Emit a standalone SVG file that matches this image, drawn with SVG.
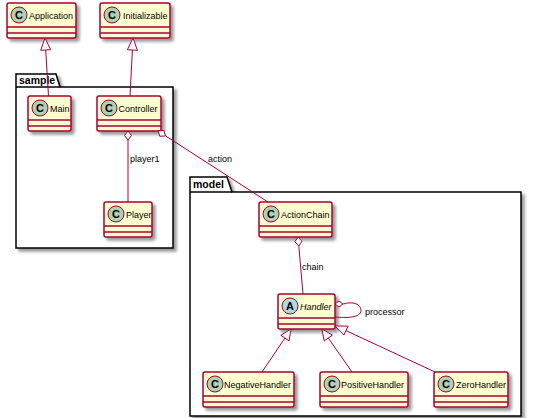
<svg xmlns="http://www.w3.org/2000/svg" width="554" height="418" viewBox="0 0 554 418">
<style>
.box{fill:#FEFECE;stroke:#A80036;stroke-width:1.5;filter:url(#sh)}
.sep{stroke:#A80036;stroke-width:1.5}
.circ{fill:#ADD1B2;stroke:#A80036;stroke-width:1}
.circA{fill:#A9DCDF;stroke:#A80036;stroke-width:1}
.let{font-family:"Liberation Sans",Arial,sans-serif;font-size:11px;font-weight:bold;fill:#000;text-anchor:middle}
.nm{font-family:"Liberation Sans",Arial,sans-serif;font-size:9px;fill:#000}
.lbl{font-family:"Liberation Sans",Arial,sans-serif;font-size:9px;fill:#000}
.pkg{fill:#FFFFFF;stroke:#000;stroke-width:1.5;filter:url(#sh)}
.pkgl{stroke:#000;stroke-width:1.5;fill:none}
.pn{font-family:"Liberation Sans",Arial,sans-serif;font-size:10.5px;font-weight:bold;fill:#000}
.ln{stroke:#A80036;stroke-width:1;fill:none}
.hd{fill:#FFFFFF;stroke:#A80036;stroke-width:1}
</style>
<defs>
<filter id="sh" x="-20%" y="-20%" width="150%" height="150%">
<feGaussianBlur in="SourceAlpha" stdDeviation="1.5"/>
<feOffset dx="3" dy="3" result="o"/>
<feComponentTransfer><feFuncA type="linear" slope="0.4"/></feComponentTransfer>
<feMerge><feMergeNode/><feMergeNode in="SourceGraphic"/></feMerge>
</filter>
</defs>
<rect width="554" height="418" fill="#FFFFFF"/>

<g id="sample">
<path class="pkg" d="M16,74 L56,74 L60,87 L173,87 L173,248 L16,248 Z"/>
<path class="pkgl" d="M16,87 L60,87"/>
<text class="pn" x="19" y="84">sample</text>
</g>
<g id="model">
<path class="pkg" d="M190,177 L227,177 L232,192 L521,192 L521,416 L190,416 Z"/>
<path class="pkgl" d="M190,192 L232,192"/>
<text class="pn" x="193" y="188">model</text>
</g>

<g id="Application" transform="translate(7,3)">
<rect class="box" width="69" height="35" rx="2"/>
<line class="sep" x1="0" y1="24" x2="69" y2="24"/><line class="sep" x1="0" y1="30" x2="69" y2="30"/>
<circle class="circ" cx="12" cy="12" r="8"/><text class="let" x="12" y="16">C</text>
<text class="nm" x="22" y="15.5">Application</text>
</g>
<g id="Initializable" transform="translate(100,3)">
<rect class="box" width="70" height="35" rx="2"/>
<line class="sep" x1="0" y1="24" x2="70" y2="24"/><line class="sep" x1="0" y1="30" x2="70" y2="30"/>
<circle class="circ" cx="12" cy="12" r="8"/><text class="let" x="12" y="16">C</text>
<text class="nm" x="23" y="15.5">Initializable</text>
</g>
<g id="Main" transform="translate(28,96)">
<rect class="box" width="43" height="35" rx="2"/>
<line class="sep" x1="0" y1="24" x2="43" y2="24"/><line class="sep" x1="0" y1="30" x2="43" y2="30"/>
<circle class="circ" cx="12" cy="12" r="8"/><text class="let" x="12" y="16">C</text>
<text class="nm" x="22" y="15.5">Main</text>
</g>
<g id="Controller" transform="translate(97,96)">
<rect class="box" width="64" height="35" rx="2"/>
<line class="sep" x1="0" y1="24" x2="64" y2="24"/><line class="sep" x1="0" y1="30" x2="64" y2="30"/>
<circle class="circ" cx="12" cy="12" r="8"/><text class="let" x="12" y="16">C</text>
<text class="nm" x="21.5" y="15.5">Controller</text>
</g>
<g id="Player" transform="translate(104,202)">
<rect class="box" width="48" height="35" rx="2"/>
<line class="sep" x1="0" y1="24" x2="48" y2="24"/><line class="sep" x1="0" y1="30" x2="48" y2="30"/>
<circle class="circ" cx="12" cy="12" r="8"/><text class="let" x="12" y="16">C</text>
<text class="nm" x="22" y="15.5">Player</text>
</g>
<g id="ActionChain" transform="translate(259,202)">
<rect class="box" width="73" height="35" rx="2"/>
<line class="sep" x1="0" y1="24" x2="73" y2="24"/><line class="sep" x1="0" y1="30" x2="73" y2="30"/>
<circle class="circ" cx="12" cy="12" r="8"/><text class="let" x="12" y="16">C</text>
<text class="nm" x="22" y="15.5">ActionChain</text>
</g>
<g id="Handler" transform="translate(278,294)">
<rect class="box" width="57" height="35" rx="2"/>
<line class="sep" x1="0" y1="24" x2="57" y2="24"/><line class="sep" x1="0" y1="30" x2="57" y2="30"/>
<circle class="circA" cx="12" cy="12" r="8"/><text class="let" x="12" y="16">A</text>
<text class="nm" x="22" y="15.5" font-style="italic">Handler</text>
</g>
<g id="NegativeHandler" transform="translate(203,372)">
<rect class="box" width="91" height="35" rx="2"/>
<line class="sep" x1="0" y1="24" x2="91" y2="24"/><line class="sep" x1="0" y1="30" x2="91" y2="30"/>
<circle class="circ" cx="12" cy="12" r="8"/><text class="let" x="12" y="16">C</text>
<text class="nm" x="21" y="15.5">NegativeHandler</text>
</g>
<g id="PositiveHandler" transform="translate(320,372)">
<rect class="box" width="88" height="35" rx="2"/>
<line class="sep" x1="0" y1="24" x2="88" y2="24"/><line class="sep" x1="0" y1="30" x2="88" y2="30"/>
<circle class="circ" cx="12" cy="12" r="8"/><text class="let" x="12" y="16">C</text>
<text class="nm" x="21" y="15.5">PositiveHandler</text>
</g>
<g id="ZeroHandler" transform="translate(434,372)">
<rect class="box" width="74" height="35" rx="2"/>
<line class="sep" x1="0" y1="24" x2="74" y2="24"/><line class="sep" x1="0" y1="30" x2="74" y2="30"/>
<circle class="circ" cx="12" cy="12" r="8"/><text class="let" x="12" y="16">C</text>
<text class="nm" x="22" y="15.5">ZeroHandler</text>
</g>

<g id="connectors">
<path class="ln" d="M45.7,50 L48.5,96"/>
<polygon class="hd" points="45,38 40.7,50.3 50.7,49.7"/>
<path class="ln" d="M132.4,50 L130,96"/>
<polygon class="hd" points="133,38 127.4,49.7 137.4,50.3"/>

<path class="ln" d="M128,140 L128,202"/>
<polygon class="hd" points="128,131 124.5,135.5 128,140 131.5,135.5"/>
<text class="lbl" x="130" y="162">player1</text>

<path class="ln" d="M165.6,135.9 L268,202"/>
<polygon class="hd" points="158,131 159.9,136.3 165.6,135.9 163.7,130.5"/>
<text class="lbl" x="208" y="162">action</text>

<path class="ln" d="M298.8,246 L303,294"/>
<polygon class="hd" points="298,237 294.9,241.8 298.8,246 301.9,241.2"/>
<text class="lbl" x="302" y="270">chain</text>

<path class="ln" d="M343,304 C353,301 361,304 361,310.5 C361,318 346,318 335,317"/>
<polygon class="hd" points="335,304 339,301 343,304 339,307"/>
<text class="lbl" x="365" y="315">processor</text>

<path class="ln" d="M284.9,338.1 L262,372"/>
<polygon class="hd" points="291,329 289,340.9 280.8,335.3"/>
<path class="ln" d="M328.3,338 L352,372"/>
<polygon class="hd" points="322,329 332.4,335.1 324.2,340.9"/>
<path class="ln" d="M346,330.6 L435,372"/>
<polygon class="hd" points="335,326 348.1,326.1 343.9,335.1"/>
</g>
</svg>
